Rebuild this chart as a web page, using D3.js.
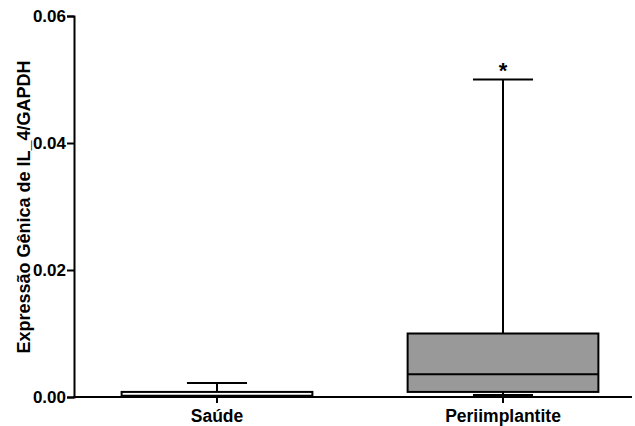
<!DOCTYPE html>
<html>
<head>
<meta charset="utf-8">
<script src="https://cdn.jsdelivr.net/npm/d3@7"></script>
<style>
  body { margin: 0; background: #fff; }
  text { font-family: "Liberation Sans", Arial, sans-serif; font-weight: bold; }
</style>
</head>
<body>
<div id="chart"></div>
<script>
// box plot data
const groups = ["Saúde", "Periimplantite"];
const whiskerLow = [0.0000, 0.0003];
const q1 = [0.0000, 0.0008];
const median = [0.0002, 0.0036];
const q3 = [0.0008, 0.0100];
const whiskerHigh = [0.0022, 0.0500];
const fills = ["#ffffff", "#999999"];
const marks = ["", "*"];
const yTicks = [0, 0.02, 0.04, 0.06];

const width = 635, height = 426;

const svg = d3.select("#chart")
  .append("svg")
  .attr("width", width)
  .attr("height", height);

const x = d3.scaleBand()
  .domain(groups)
  .range([74, 646])
  .padding(0);

const y = d3.scaleLinear()
  .domain([0, 0.06])
  .range([397, 16]);

// y axis
const yAxis = svg.append("g")
  .attr("transform", "translate(74,0)")
  .call(d3.axisLeft(y).tickValues(yTicks).tickFormat(d3.format(".2f")).tickSizeOuter(0).tickSize(7).tickPadding(1));
yAxis.select(".domain").attr("stroke-width", 2);
yAxis.selectAll(".tick line").attr("stroke-width", 2);
yAxis.selectAll(".tick text").attr("font-size", 17).attr("fill", "#000");

// x axis
const xAxis = svg.append("g")
  .attr("transform", "translate(0,397)")
  .call(d3.axisBottom(x).tickSize(6).tickPadding(7));
xAxis.select(".domain").remove();
xAxis.selectAll(".tick line").attr("stroke-width", 2);
xAxis.selectAll(".tick text").attr("font-size", 17.5).attr("fill", "#000");
svg.append("line")
  .attr("x1", 73).attr("x2", 632)
  .attr("y1", 397).attr("y2", 397)
  .attr("stroke", "#000").attr("stroke-width", 2);

// boxes
const boxW = x.bandwidth() * 0.667;
const capW = x.bandwidth() * 0.21;

groups.forEach((g, i) => {
  const cx = x(g) + x.bandwidth() / 2;
  const b = svg.append("g");
  // whiskers
  b.append("line")
    .attr("x1", cx).attr("x2", cx)
    .attr("y1", y(whiskerHigh[i])).attr("y2", y(q3[i]))
    .attr("stroke", "#000").attr("stroke-width", 2);
  b.append("line")
    .attr("x1", cx).attr("x2", cx)
    .attr("y1", y(q1[i])).attr("y2", y(whiskerLow[i]))
    .attr("stroke", "#000").attr("stroke-width", 2);
  b.append("line")
    .attr("x1", cx - capW / 2).attr("x2", cx + capW / 2)
    .attr("y1", y(whiskerHigh[i])).attr("y2", y(whiskerHigh[i]))
    .attr("stroke", "#000").attr("stroke-width", 2);
  b.append("line")
    .attr("x1", cx - capW / 2).attr("x2", cx + capW / 2)
    .attr("y1", y(whiskerLow[i])).attr("y2", y(whiskerLow[i]))
    .attr("stroke", "#000").attr("stroke-width", 2);
  // box
  b.append("rect")
    .attr("x", cx - boxW / 2)
    .attr("y", y(q3[i]))
    .attr("width", boxW)
    .attr("height", Math.max(y(q1[i]) - y(q3[i]), 1))
    .attr("fill", fills[i])
    .attr("stroke", "#000").attr("stroke-width", 2);
  b.append("line")
    .attr("x1", cx - boxW / 2).attr("x2", cx + boxW / 2)
    .attr("y1", y(median[i])).attr("y2", y(median[i]))
    .attr("stroke", "#000").attr("stroke-width", 2);
  if (marks[i]) {
    b.append("text")
      .attr("x", cx).attr("y", y(whiskerHigh[i]) - 2)
      .attr("text-anchor", "middle")
      .attr("font-size", 22)
      .text(marks[i]);
  }
});

// y label
svg.append("text")
  .attr("transform", "translate(30,207) rotate(-90)")
  .attr("text-anchor", "middle")
  .attr("font-size", 18)
  .text("Expressão Gênica de IL_4/GAPDH");
</script>
</body>
</html>
